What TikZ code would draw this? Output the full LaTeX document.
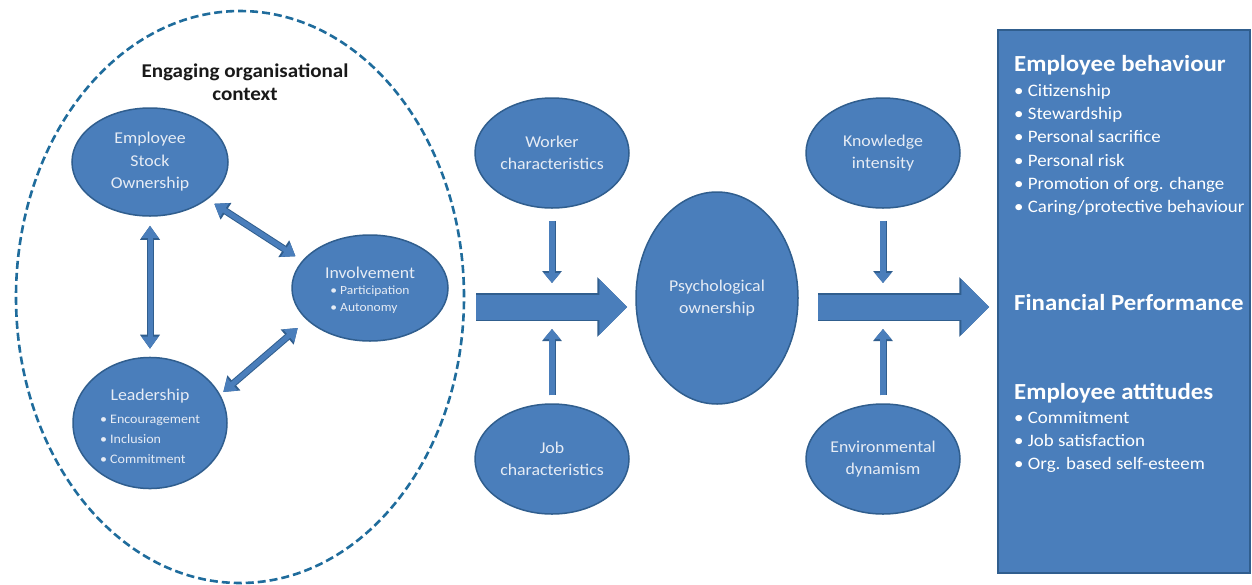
\documentclass[tikz,border=0pt]{standalone}
\usepackage{fontspec}
\setmainfont{Carlito}[FakeStretch=1.08]
\usetikzlibrary{shapes.geometric,arrows.meta}
\definecolor{boxblue}{HTML}{4A7EBB}
\definecolor{edgeblue}{HTML}{305E8E}
\definecolor{dashblue}{HTML}{1F6C9C}
\definecolor{txtwhite}{HTML}{E6ECF5}
\tikzset{
  oval/.style={ellipse, draw=edgeblue, line width=1.5pt, fill=boxblue, text=txtwhite,
    inner sep=0pt, align=center, font=\fontsize{16.5}{22.5}\selectfont},
  dblarr/.style={draw=boxblue, line width=5pt,
    {Triangle[width=16pt,length=12pt]}-{Triangle[width=16pt,length=12pt]},
    preaction={draw=edgeblue, line width=7pt,
      {Triangle[width=19pt,length=14pt]}-{Triangle[width=19pt,length=14pt]}}},
  smallarr/.style={draw=boxblue, line width=5.5pt, -{Triangle[width=16pt,length=10pt]},
    preaction={draw=edgeblue, line width=7pt, -{Triangle[width=19pt,length=12pt]}}},
  bigarr/.style={draw=boxblue, line width=25pt, -{Triangle[width=54pt,length=28pt]},
    preaction={draw=edgeblue, line width=27.5pt, -{Triangle[width=58pt,length=30pt]}}},
  boxtext/.style={anchor=west, text=white, align=left, inner sep=0pt},
}
\begin{document}
\begin{tikzpicture}[x=1pt,y=-1pt]
\useasboundingbox[fill=white] (0,0) rectangle (1252,584);
% engaging context
\node[ellipse, draw=dashblue, line width=2.6pt, dash pattern=on 8pt off 4pt,
  minimum width=448pt, minimum height=572pt] (ctx) at (240,297) {};
\node[font=\bfseries\fontsize{19.5}{23}\selectfont, align=center, text=black!90] (title) at (245,82)
  {Engaging organisational\\context};
\node[oval, minimum width=156pt, minimum height=108pt] (eso) at (150,162)
  {Employee\\Stock\\Ownership};
\node[oval, minimum width=156pt, minimum height=106pt] (inv) at (370,288)
  {\rule{0pt}{19pt}Involvement\\[2pt]{\fontsize{12.5}{17}\selectfont\begin{tabular}{@{}l@{}}• Participation\\• Autonomy\end{tabular}}};
\node[oval, minimum width=154pt, minimum height=106pt] (lead) at (150,423)
  {\rule{0pt}{24pt}Leadership\\[5pt]{\fontsize{13}{20}\selectfont\begin{tabular}{@{}l@{}}• Encouragement\\• Inclusion\\• Commitment\end{tabular}}};
\draw[dblarr, shorten <=9pt, shorten >=8pt] (eso.south) -- (lead.north);
\draw[dblarr, shorten <=8pt, shorten >=8pt] (eso.-33) -- (inv.158);
\draw[dblarr, shorten <=12pt, shorten >=4pt] (inv.207) -- (lead.22);
% moderators
\node[oval, minimum width=154pt, minimum height=110pt] (worker) at (552,153) {Worker\\characteristics};
\node[oval, minimum width=154pt, minimum height=110pt] (job) at (552,459) {Job\\characteristics};
\node[oval, minimum width=154pt, minimum height=110pt] (know) at (883,153) {Knowledge\\intensity};
\node[oval, minimum width=154pt, minimum height=110pt] (env) at (883,459) {Environmental\\dynamism};
\node[oval, minimum width=162pt, minimum height=212pt] (psych) at (717,298) {Psychological\\ownership};
\coordinate (lj) at (552,307);
\coordinate (rj) at (883,307);
% outcomes
\node[rectangle, draw=edgeblue, line width=1.5pt, fill=boxblue,
  minimum width=252pt, minimum height=543pt] (box) at (1124,301.5) {};
\draw[bigarr] ([shift={(11,10)}]ctx.east) -- ([shift={(-8,9)}]psych.west);
\draw[bigarr] ([shift={(19,9)}]psych.east) -- ([shift={(-8,5.5)}]box.west);
\draw[smallarr] ([yshift=-12pt]worker.south) -- ([yshift=24pt]lj);
\draw[smallarr] ([yshift=8pt]job.north) -- ([yshift=-22pt]lj);
\draw[smallarr] ([yshift=-12pt]know.south) -- ([yshift=24pt]rj);
\draw[smallarr] ([yshift=8pt]env.north) -- ([yshift=-22pt]rj);
\node[boxtext, font=\bfseries\fontsize{23}{26}\selectfont] (beh) at (1014,65) {Employee behaviour};
\node[boxtext, font=\fontsize{17.5}{23.3}\selectfont] (behlist) at (1014,150)
  {• Citizenship\\• Stewardship\\• Personal sacrifice\\• Personal risk\\• Promotion of org. change\\• Caring/protective behaviour};
\node[boxtext, font=\bfseries\fontsize{23}{26}\selectfont] (fin) at (1014,303) {Financial Performance};
\node[boxtext, font=\bfseries\fontsize{23}{26}\selectfont] (att) at (1014,393) {Employee attitudes};
\node[boxtext, font=\fontsize{17.5}{23.3}\selectfont] (attlist) at (1014,442)
  {• Commitment\\• Job satisfaction\\• Org. based self-esteem};
\end{tikzpicture}
\end{document}
